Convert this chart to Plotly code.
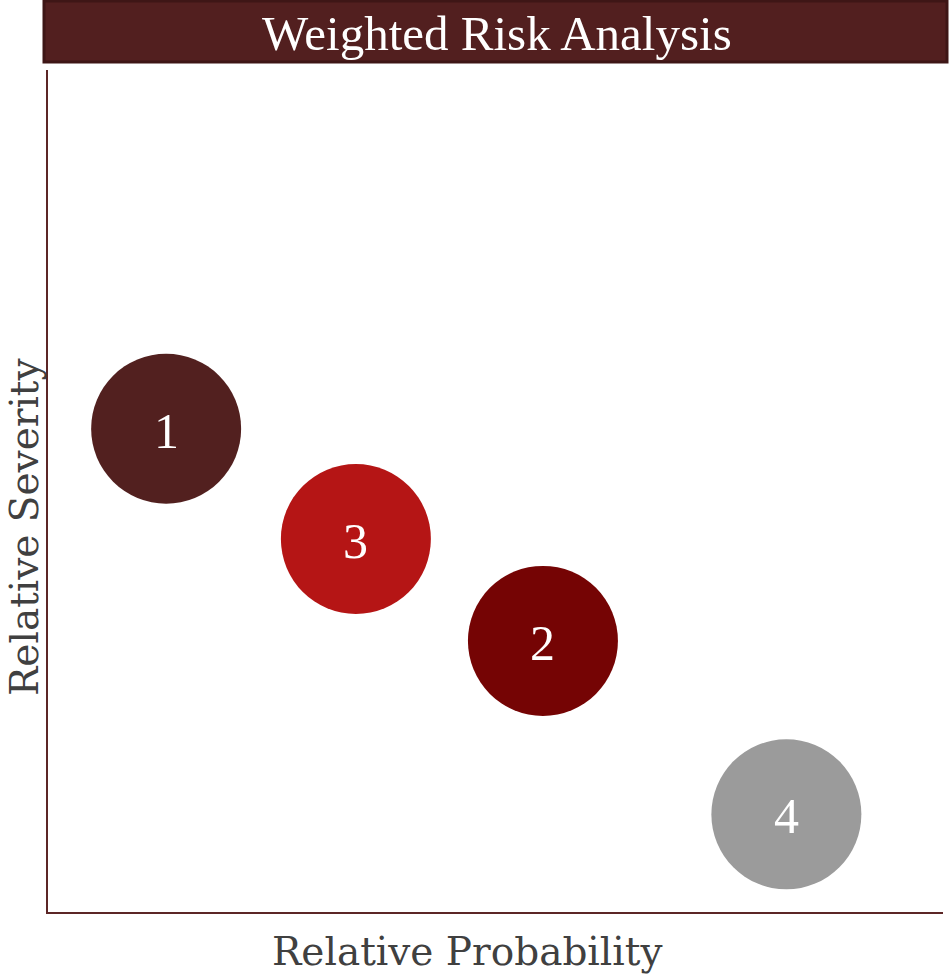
import plotly.graph_objects as go

# Risk items: probability (x) vs severity (y), on a 0-100 relative scale
risk_ids = ["1", "2", "3", "4"]
probability = [13.2, 55.3, 34.4, 82.5]
severity = [57.4, 32.2, 44.3, 11.6]
bubble_colors = ["#52201F", "#750404", "#B51515", "#9B9B9B"]

W, H = 949, 980
SERIF = "DejaVu Serif"
TITLE_FONT = "Liberation Serif"

def px_x(p):
    return p / W

def px_y(p):
    return 1 - p / H

fig = go.Figure()
fig.add_trace(go.Scatter(
    x=probability, y=severity,
    mode="markers",
    marker=dict(size=150, color=bubble_colors, line=dict(width=0), opacity=1),
    hoverinfo="skip",
    showlegend=False,
))

# Item numbers centred on each bubble
bubble_labels = [
    dict(text=rid, x=xv, y=yv, xref="x", yref="y", showarrow=False,
         xanchor="center", yanchor="middle", yshift=-2,
         font=dict(family=TITLE_FONT, size=50, color="white"))
    for rid, xv, yv in zip(risk_ids, probability, severity)
]

axis_line = "#5C2626"
fig.update_layout(
    width=W, height=H,
    margin=dict(l=0, r=0, t=0, b=0),
    paper_bgcolor="white", plot_bgcolor="white",
    xaxis=dict(domain=[px_x(48), px_x(943)], range=[0, 100], showgrid=False,
               zeroline=False, showticklabels=False, ticks="",
               showline=True, linecolor=axis_line, linewidth=2, fixedrange=True),
    yaxis=dict(domain=[px_y(912), px_y(70)], range=[0, 100], showgrid=False,
               zeroline=False, showticklabels=False, ticks="",
               showline=True, linecolor=axis_line, linewidth=2, fixedrange=True),
    shapes=[
        dict(type="rect", xref="paper", yref="paper",
             x0=px_x(44), x1=px_x(947), y0=px_y(62), y1=px_y(1),
             fillcolor="#521F1F", line=dict(color="#3E1616", width=3), layer="above"),
    ],
    annotations=[
        dict(text="Weighted Risk Analysis", xref="paper", yref="paper",
             x=px_x(497), y=px_y(34), showarrow=False,
             font=dict(family=TITLE_FONT, size=49, color="white"),
             xanchor="center", yanchor="middle"),
        dict(text="Relative Probability", xref="paper", yref="paper",
             x=px_x(467), y=px_y(951), showarrow=False,
             font=dict(family=SERIF, size=39, color="#404040"),
             xanchor="center", yanchor="middle"),
        dict(text="Relative Severity", xref="paper", yref="paper",
             x=px_x(24), y=px_y(527), showarrow=False, textangle=-90,
             font=dict(family=SERIF, size=39, color="#404040"),
             xanchor="center", yanchor="middle"),
    ] + bubble_labels,
)

fig.write_html("out.html")
